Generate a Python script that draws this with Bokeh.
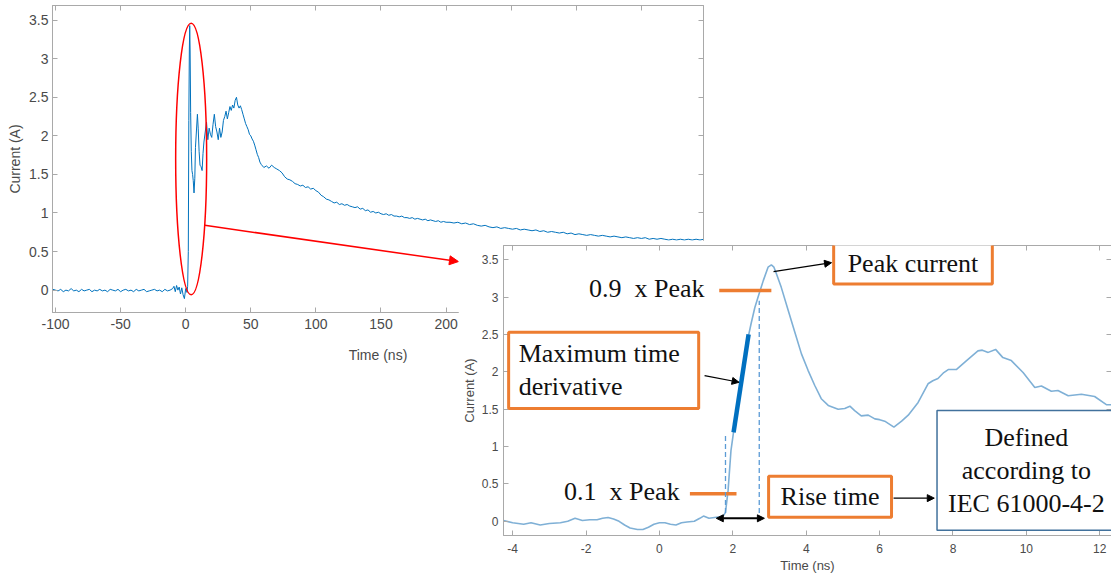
from bokeh.plotting import figure
from bokeh.models import Range1d, FixedTicker, LinearAxis, Label, Arrow, NormalHead
from bokeh.layouts import column, row
from bokeh.embed import file_html
from bokeh.resources import INLINE

# ---------------- overview trace (Time ns, Current A) ----------------
t1_base = list(range(-102, -11, 2))
i1_base = [0.01, 0.00, -0.01, 0.01, -0.02, 0.00, -0.01, 0.02, -0.01, 0.00, -0.02, 0.01,
           -0.01, 0.00, 0.01, -0.02, 0.00, -0.01, 0.01, -0.01, 0.00, -0.02, 0.01, 0.00,
           -0.01, 0.01, -0.02, 0.00, 0.01, -0.01, 0.00, -0.02, 0.01, -0.01, 0.00, 0.01,
           -0.02, -0.01, 0.00, 0.01, -0.01, 0.00, -0.02, 0.01, -0.01, 0.00]
t1_spike = [-10, -9, -8, -7, -6, -5, -4, -3, -2, -1, 0, 1, 1.5, 2, 2.4, 2.8, 3.1, 3.4,
            3.8, 4.3, 4.8, 5.3, 5.8, 6.4, 7.0, 7.5, 8.2, 9.0, 9.6, 10.3, 11.0, 11.8,
            12.6, 13.3]
i1_spike = [0.02, 0.05, -0.02, 0.06, 0.00, 0.04, -0.05, 0.03, -0.06, -0.11, 0.02, -0.03,
            0.05, 0.50, 2.20, 3.10, 3.43, 3.10, 2.30, 1.80, 1.55, 1.50, 1.42, 1.26, 1.45,
            1.85, 2.05, 2.28, 2.10, 1.80, 1.62, 1.60, 1.55, 1.77]
t1_mid = list(range(14, 61))
i1_mid = [1.92, 2.05, 2.18, 1.95, 2.10, 2.02, 1.98, 2.15, 2.28, 2.12, 2.05, 1.95, 2.10,
          1.98, 2.05, 2.20, 2.25, 2.32, 2.22, 2.30, 2.38, 2.33, 2.40, 2.36, 2.46, 2.50,
          2.40, 2.36, 2.39, 2.34, 2.28, 2.22, 2.16, 2.12, 2.08, 2.02, 2.00, 1.96, 1.93,
          1.88, 1.82, 1.76, 1.72, 1.66, 1.63, 1.61, 1.59]
t1_tail = list(range(62, 201, 2))
i1_tail = [1.61, 1.58, 1.62, 1.59, 1.57, 1.55, 1.52, 1.47, 1.44, 1.43, 1.41, 1.38, 1.37,
           1.35, 1.36, 1.33, 1.34, 1.31, 1.32, 1.29, 1.27, 1.23, 1.21, 1.18, 1.17, 1.15,
           1.13, 1.14, 1.11, 1.12, 1.10, 1.11, 1.09, 1.08, 1.07, 1.08, 1.05, 1.06, 1.03,
           1.04, 1.01, 1.02, 1.00, 1.01, 0.99, 0.98, 0.99, 0.97, 0.98, 0.96, 0.96, 0.95,
           0.96, 0.94, 0.94, 0.93, 0.94, 0.92, 0.93, 0.92, 0.91, 0.92, 0.90, 0.91, 0.90,
           0.89, 0.90, 0.88, 0.89, 0.88]
t1_far = list(range(203, 399, 3))
i1_far = [0.88, 0.87, 0.88, 0.86, 0.87, 0.85, 0.86, 0.84, 0.83, 0.84, 0.82, 0.81, 0.82,
          0.80, 0.81, 0.80, 0.79, 0.80, 0.78, 0.79, 0.78, 0.77, 0.78, 0.76, 0.77, 0.75,
          0.76, 0.75, 0.74, 0.75, 0.73, 0.74, 0.72, 0.73, 0.72, 0.71, 0.72, 0.71, 0.70,
          0.71, 0.70, 0.69, 0.70, 0.69, 0.68, 0.69, 0.68, 0.67, 0.68, 0.67, 0.68, 0.66,
          0.67, 0.66, 0.67, 0.66, 0.65, 0.66, 0.65, 0.66, 0.65, 0.66, 0.65, 0.66, 0.65,
          0.66]
t1 = t1_base + t1_spike + t1_mid + t1_tail + t1_far
i1 = i1_base + i1_spike + i1_mid + i1_tail + i1_far

# ---------------- zoomed trace (Time ns, Current A) ----------------
t2 = [-4.25, -4.0, -3.7, -3.5, -3.25, -3.0, -2.7, -2.5, -2.3, -2.1, -1.9, -1.7, -1.55,
      -1.4, -1.25, -1.1, -0.95, -0.8, -0.6, -0.45, -0.3, -0.15, 0.0, 0.15, 0.3, 0.45,
      0.6, 0.75, 0.95, 1.1, 1.2, 1.35, 1.5, 1.65, 1.75, 1.80, 1.87, 1.95, 2.05, 2.19,
      2.30, 2.40, 2.50, 2.60, 2.72, 2.83, 2.96, 3.05, 3.12, 3.19, 3.32, 3.51, 3.69,
      3.87, 4.05, 4.23, 4.41, 4.60, 4.87, 5.05, 5.19, 5.32, 5.50, 5.69, 5.87, 6.00,
      6.14, 6.39, 6.60, 6.78, 7.05, 7.32, 7.45, 7.59, 7.75, 7.87, 8.09, 8.37, 8.68,
      8.80, 8.96, 9.16, 9.36, 9.59, 9.91, 10.23, 10.41, 10.68, 10.86, 11.14, 11.50,
      11.86, 12.18, 12.34]
i2 = [0.01, -0.02, -0.04, -0.02, -0.05, -0.03, -0.02, 0.00, 0.04, 0.01, 0.02, 0.02, 0.04,
      0.05, 0.03, 0.00, -0.05, -0.09, -0.11, -0.11, -0.08, -0.04, -0.02, -0.02, -0.04,
      -0.05, -0.02, -0.01, 0.00, 0.04, 0.07, 0.04, 0.05, 0.06, 0.08, 0.12, 0.41, 0.95,
      1.30, 1.75, 2.10, 2.42, 2.65, 2.86, 3.05, 3.22, 3.40, 3.43, 3.40, 3.31, 3.13, 2.82,
      2.53, 2.24, 2.02, 1.82, 1.64, 1.55, 1.50, 1.51, 1.54, 1.48, 1.41, 1.42, 1.37, 1.36,
      1.34, 1.26, 1.34, 1.42, 1.59, 1.84, 1.88, 1.91, 1.99, 2.03, 2.03, 2.15, 2.28, 2.29,
      2.26, 2.30, 2.19, 2.15, 1.99, 1.79, 1.81, 1.74, 1.75, 1.68, 1.70, 1.67, 1.56, 1.56]

x1_ticks = [-100, -50, 0, 50, 100, 150, 200, 250, 300, 350]
x1_labels = ["-100", "-50", "0", "50", "100", "150", "200", "250", "300", "350"]
x2_ticks = [-4, -2, 0, 2, 4, 6, 8, 10, 12]
x2_labels = ["-4", "-2", "0", "2", "4", "6", "8", "10", "12"]
y_ticks = [0, 0.5, 1, 1.5, 2, 2.5, 3, 3.5]
y_labels = ["0", "0.5", "1", "1.5", "2", "2.5", "3", "3.5"]

peak_current = 3.43

AX = "#a9a9a9"
TXT = "#4a4a4a"
SANS = "Liberation Sans"
SERIF = "Liberation Serif"
ORANGE = "#ED7D31"


def box_axes(p, xt, xl, yt, yl, tick_fs, xlab, ylab, xlab_fs, ylab_fs,
             x_std, x_lstd, y_std, y_lstd):
    p.xgrid.visible = False
    p.ygrid.visible = False
    p.outline_line_color = AX
    p.background_fill_color = "white"
    p.border_fill_color = "white"
    for ax, ticks, labels in ((p.xaxis[0], xt, xl), (p.yaxis[0], yt, yl)):
        ax.ticker = FixedTicker(ticks=ticks)
        ax.major_label_overrides = dict(zip(ticks, labels))
        ax.major_tick_in = 5
        ax.major_tick_out = 0
        ax.minor_tick_line_color = None
        ax.axis_line_color = AX
        ax.major_tick_line_color = AX
        ax.major_label_text_font = SANS
        ax.major_label_text_font_size = tick_fs
        ax.major_label_text_color = TXT
        ax.axis_label_text_font = SANS
        ax.axis_label_text_font_style = "normal"
        ax.axis_label_text_color = TXT
    p.xaxis[0].axis_label = xlab
    p.xaxis[0].axis_label_text_font_size = xlab_fs
    p.xaxis[0].major_label_standoff = x_std
    p.xaxis[0].axis_label_standoff = x_lstd
    p.yaxis[0].axis_label = ylab
    p.yaxis[0].axis_label_text_font_size = ylab_fs
    p.yaxis[0].major_label_standoff = y_std
    p.yaxis[0].axis_label_standoff = y_lstd
    for loc, ticks in (("above", xt), ("right", yt)):
        a = LinearAxis(ticker=FixedTicker(ticks=ticks), major_label_text_font_size="0px",
                       major_label_text_color=None,
                       major_label_standoff=0, major_tick_in=5, major_tick_out=0,
                       axis_line_color=AX, major_tick_line_color=AX,
                       minor_tick_line_color=None)
        p.add_layout(a, loc)


# ---------------- figure 1 : overview ----------------
p1 = figure(frame_width=651, frame_height=307,
            x_range=Range1d(-102.3, 397.7), y_range=Range1d(-0.29, 3.69),
            min_border_left=52, min_border_right=12, min_border_top=5, min_border_bottom=55,
            output_backend="svg", toolbar_location=None)
box_axes(p1, x1_ticks, x1_labels, y_ticks, y_labels, "14px", "Time (ns)", "Current (A)",
         "14px", "14px", 6, 15, 4, 3)
p1.line(t1, i1, line_color="#0072BD", line_width=1)
p1.ellipse(x=[4.2], y=[1.70], width=[23.8], height=[3.52], fill_alpha=0,
           line_color="#FF0000", line_width=1.5)
p1.add_layout(Arrow(x_start=14.6, y_start=0.84, x_end=209.5, y_end=0.37,
                    line_color="#FF0000", line_width=1.5,
                    end=NormalHead(size=9, fill_color="#FF0000", line_color="#FF0000")))

# ---------------- figure 2 : zoom on the rising edge ----------------
p2 = figure(frame_width=608, frame_height=290,
            x_range=Range1d(-4.25, 12.32), y_range=Range1d(-0.19, 3.69),
            min_border_left=44, min_border_right=1, min_border_top=5, min_border_bottom=42,
            output_backend="svg", toolbar_location=None)
box_axes(p2, x2_ticks, x2_labels, y_ticks, y_labels, "12px", "Time (ns)", "Current (A)",
         "13px", "13px", 8, 2, 5, 2)
p2.line(t2, i2, line_color="#7fb0d6", line_width=1.6)

# 0.1 / 0.9 x peak levels
p2.line([1.63, 3.05], [0.9 * peak_current] * 2, line_color=ORANGE, line_width=3.5)
p2.line([0.83, 2.10], [0.37, 0.37], line_color=ORANGE, line_width=3.5)
# dashed verticals
p2.line([1.80, 1.80], [0.11, 1.18], line_color="#5B9BD5", line_width=1.3, line_dash="5 3")
p2.line([2.72, 2.72], [0.11, 2.95], line_color="#5B9BD5", line_width=1.3, line_dash="5 3")
# maximum derivative segment
p2.line([2.02, 2.43], [1.19, 2.50], line_color="#0070C0", line_width=4.5)

head = dict(size=7, fill_color="black", line_color="black")
p2.add_layout(Arrow(x_start=1.23, y_start=1.95, x_end=2.17, y_end=1.86, line_width=1.2,
                    end=NormalHead(**head)))
p2.add_layout(Arrow(x_start=3.11, y_start=3.34, x_end=4.69, y_end=3.46, line_width=1.2,
                    end=NormalHead(**head)))
p2.add_layout(Arrow(x_start=1.55, y_start=0.04, x_end=2.86, y_end=0.04, line_width=2,
                    start=NormalHead(**head), end=NormalHead(**head)))
p2.add_layout(Arrow(x_start=6.38, y_start=0.31, x_end=7.49, y_end=0.31, line_width=1.2,
                    end=NormalHead(**head)))

common = dict(text_font=SERIF, text_font_size="26px", text_color="#111111")
p2.add_layout(Label(x=1.23, y=3.11, text="0.9 \u00a0x Peak", text_align="right",
                    text_baseline="middle", **common))
p2.add_layout(Label(x=0.55, y=0.40, text="0.1 \u00a0x Peak", text_align="right",
                    text_baseline="middle", **common))
p2.add_layout(Label(x=6.91, y=3.45, text="Peak current", text_align="center",
                    text_baseline="middle", background_fill_color="white",
                    border_line_color=ORANGE, border_line_width=3,
                    padding=dict(left=14, right=14, top=6, bottom=6), **common))
p2.add_layout(Label(x=-4.11, y=2.02, text="Maximum time\nderivative", text_align="left",
                    text_baseline="middle", background_fill_color="white",
                    border_line_color=ORANGE, border_line_width=3, text_line_height=1.15,
                    padding=dict(left=10, right=19, top=7, bottom=7), **common))
p2.add_layout(Label(x=4.65, y=0.33, text="Rise time", text_align="center",
                    text_baseline="middle", background_fill_color="white",
                    border_line_color=ORANGE, border_line_width=3,
                    padding=dict(left=12, right=12, top=6, bottom=6), **common))
p2.add_layout(Label(x=10.0, y=0.68, text="Defined\naccording to\nIEC 61000-4-2",
                    text_align="center", text_baseline="middle",
                    background_fill_color="white", border_line_color="#41719C",
                    border_line_width=1.5, text_line_height=1.15,
                    padding=dict(left=11, right=11, top=12, bottom=12), **common))

root = column(p1, row(p2, margin=(-127, 0, 0, 458)))
open("out.html", "w").write(file_html(root, INLINE))
